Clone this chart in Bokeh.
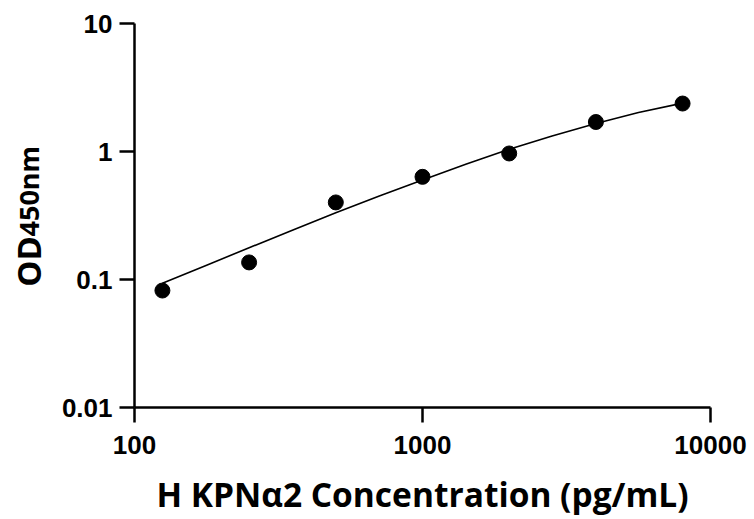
from bokeh.plotting import figure
from bokeh.models import Range1d, FixedTicker, Label
from bokeh.embed import file_html
from bokeh.resources import INLINE

# measured standards
conc = [125, 250, 500, 1000, 2000, 4000, 8000]
od = [0.082, 0.136, 0.400, 0.634, 0.965, 1.70, 2.37]

# fitted curve
curve_x = [125, 178, 250, 355, 500, 708, 1000, 1413, 2000, 2818, 4000, 5623, 8000]
curve_y = [0.0933, 0.1294, 0.177, 0.2432, 0.3327, 0.4498, 0.600, 0.794, 1.042, 1.324, 1.652, 2.014, 2.388]

x_ticks = [100, 1000, 10000]
x_labels = ["100", "1000", "10000"]
y_ticks = [0.01, 0.1, 1, 10]
y_labels = ["0.01", "0.1", "1", "10"]

x_title = "H KPNα2 Concentration (pg/mL)"
y_title_main = "OD"
y_title_sub = "450nm"

p = figure(width=754, height=519, x_axis_type="log", y_axis_type="log",
           x_range=Range1d(100, 10000), y_range=Range1d(0.01, 10),
           output_backend="svg", toolbar_location=None,
           min_border_left=134, min_border_right=44,
           min_border_top=23, min_border_bottom=111)
p.outline_line_color = None
p.grid.visible = False
p.background_fill_color = "white"

p.xaxis.ticker = FixedTicker(ticks=x_ticks)
p.yaxis.ticker = FixedTicker(ticks=y_ticks)
p.xaxis.major_label_overrides = dict(zip(x_ticks, x_labels))
p.yaxis.major_label_overrides = dict(zip(y_ticks, y_labels))

for ax in (p.xaxis[0], p.yaxis[0]):
    ax.axis_line_width = 2.5
    ax.axis_line_color = "black"
    ax.major_tick_line_width = 2.5
    ax.major_tick_line_color = "black"
    ax.major_tick_out = 15
    ax.major_tick_in = 0
    ax.minor_tick_line_color = None
    ax.major_label_text_font = "Liberation Sans"
    ax.major_label_text_font_style = "bold"
    ax.major_label_text_font_size = "26px"
    ax.major_label_text_color = "black"

p.xaxis.major_label_standoff = 13
p.yaxis.major_label_standoff = 7

p.xaxis.axis_label = x_title
p.xaxis.axis_label_text_font = "Open Sans"
p.xaxis.axis_label_text_font_style = "bold"
p.xaxis.axis_label_text_font_size = "33.5px"
p.xaxis.axis_label_text_color = "black"
p.xaxis.axis_label_standoff = 14

p.line(curve_x, curve_y, line_color="black", line_width=1.6)
p.scatter(conc, od, size=15, fill_color="black", line_color="black")

# rotated y-axis title: placed in side panels so it is not clipped to the frame
lab_x = 42.7
p.add_layout(Label(x=lab_x, y=0.0876, text=y_title_main, angle=1.5708,
                   text_font="Open Sans", text_font_style="bold",
                   text_font_size="33px", text_baseline="alphabetic",
                   text_align="left", text_color="black"), "left")
p.add_layout(Label(x=lab_x, y=0.2169, text=y_title_sub, angle=1.5708,
                   text_font="Open Sans", text_font_style="bold",
                   text_font_size="27px", text_baseline="alphabetic",
                   text_align="left", text_color="black"), "right")

open("out.html", "w").write(file_html(p, INLINE))
